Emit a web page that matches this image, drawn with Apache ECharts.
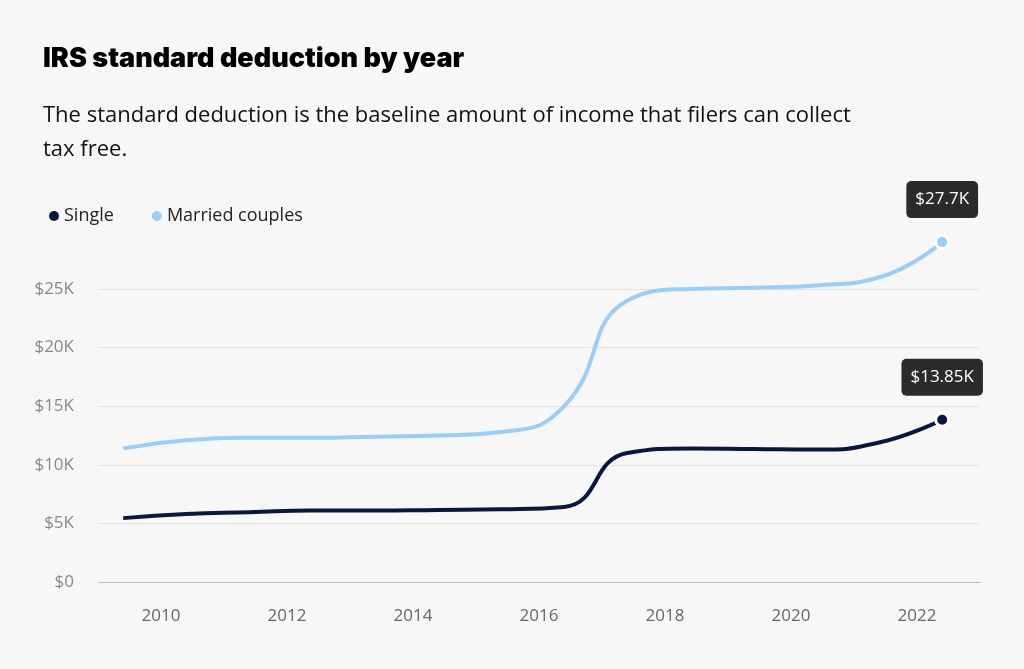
<!DOCTYPE html>
<html><head><meta charset="utf-8">
<script src="https://cdn.jsdelivr.net/npm/echarts@6/dist/echarts.min.js"></script>
<style>html,body{margin:0;background:#f7f7f7;}#c{width:1024px;height:669px;}</style>
</head><body><div id="c"></div>
<script>
const xPos = [2009.4,2010.4,2011.4,2012.4,2013.4,2014.4,2015.4,2016.4,2017.4,2018.4,2019.4,2020.4,2021.4,2022.4];
const single = [5450,5800,5950,6100,6100,6150,6200,6400,11000,11400,11350,11300,11900,13850];
const married = [11400,12100,12300,12300,12400,12500,12800,15000,24000,25000,25100,25300,26000,29000];
const singleLabel = '$13.85K', marriedLabel = '$27.7K';
function mk(vals, lbl, color){
  return xPos.map((x,i)=>{
    if(i<vals.length-1) return [x,vals[i]];
    return {value:[x,vals[i]], symbolSize:13,
      itemStyle:{color:color,borderColor:'#fff',borderWidth:3},
      label:{show:true,position:'top',distance:16,formatter:lbl,color:'#fff',fontSize:17,
        fontFamily:'Open Sans',backgroundColor:'#2b2b2b',padding:[10,9],borderRadius:5}};
  });
}
const chart = echarts.init(document.getElementById('c'));
chart.setOption({
  backgroundColor:'#f7f7f7',
  title:[{text:'IRS standard deduction by year',left:38,top:40,textStyle:{fontFamily:'Inter',fontWeight:900,fontSize:27,color:'#000'}},
    {text:'The standard deduction is the baseline amount of income that filers can collect\ntax free.',left:38,top:94,textStyle:{fontFamily:'Open Sans',fontWeight:'normal',fontSize:22,lineHeight:34,color:'#111'}}],
  legend:{left:44,top:202,itemWidth:10,itemHeight:10,itemGap:38,icon:'circle',textStyle:{fontFamily:'Open Sans',fontSize:18,color:'#222'},data:['Single','Married couples']},
  grid:{left:98,right:44,top:230.4,bottom:87},
  xAxis:{type:'value',min:2009,max:2023,interval:1,
    axisLine:{lineStyle:{color:'#bbb'}},axisTick:{show:false},splitLine:{show:false},
    axisLabel:{margin:26,fontFamily:'Open Sans',fontSize:17,color:'#666',formatter:v=>v%2===0?String(v):''}},
  yAxis:{type:'value',min:0,max:30000,interval:5000,
    axisLine:{show:false},axisTick:{show:false},
    splitLine:{showMaxLine:false,lineStyle:{color:'#e3e3e3'}},
    axisLabel:{showMaxLabel:false,margin:24,fontFamily:'Open Sans',fontSize:17,color:'#888',formatter:v=>v===0?'$0':(v>=30000?'':'$'+(v/1000)+'K')}},
  series:[
    {name:'Single',type:'line',smooth:0.5,symbol:'circle',symbolSize:0,color:'#0b1640',lineStyle:{width:4,color:'#0b1640'},data:mk(single,singleLabel,'#0b1640'),z:3},
    {name:'Married couples',type:'line',smooth:0.5,symbol:'circle',symbolSize:0,color:'#9ccdf7',lineStyle:{width:4,color:'#9ccdf7'},data:mk(married,marriedLabel,'#9ccdf7'),z:2}
  ]
});
</script></body></html>
